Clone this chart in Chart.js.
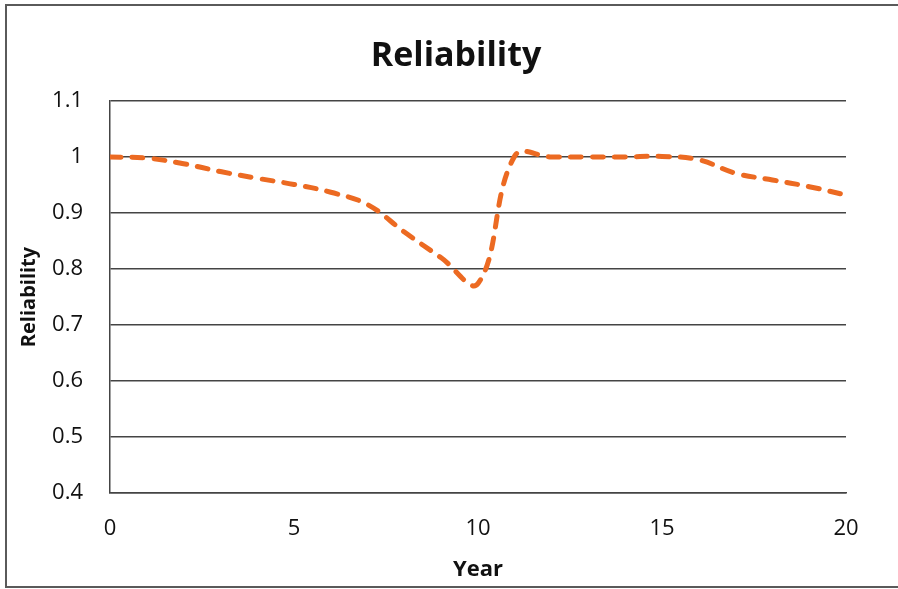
<!DOCTYPE html>
<html>
<head>
<meta charset="utf-8">
<script src="https://cdn.jsdelivr.net/npm/chart.js@4/dist/chart.umd.min.js"></script>
<style>
  html, body { margin: 0; padding: 0; background: #fff; }
  #wrap { position: relative; width: 898px; height: 589px; }
</style>
</head>
<body>
<div id="wrap"><canvas id="c" width="898" height="589"></canvas></div>
<script>
const chartTitle = "Reliability";
const xAxisTitle = "Year";
const yAxisTitle = "Reliability";
const years = [0, 1, 2, 3, 4, 5, 6, 7, 8, 9, 10, 11, 12, 13, 14, 15, 16, 17, 18, 19, 20];
const reliability = [1.0, 0.998, 0.988, 0.974, 0.962, 0.951, 0.937, 0.915, 0.866, 0.82, 0.774, 1.002, 1.0, 1.0, 1.0, 1.001, 0.995, 0.971, 0.959, 0.947, 0.932];
const xTicks = [0, 5, 10, 15, 20];
const yTicks = [0.4, 0.5, 0.6, 0.7, 0.8, 0.9, 1, 1.1];

const points = years.map((x, i) => ({ x: x, y: reliability[i] }));

const framePlugin = {
  id: 'frame',
  beforeDraw(chart) {
    const ctx = chart.ctx;
    ctx.save();
    ctx.fillStyle = '#fff';
    ctx.fillRect(0, 0, chart.width, chart.height);
    ctx.strokeStyle = '#5a5a5a';
    ctx.lineWidth = 2;
    ctx.strokeRect(6, 5, 900, 582);
    ctx.restore();
  },
  afterDraw(chart) {
    const ctx = chart.ctx;
    ctx.save();
    ctx.fillStyle = '#111';
    ctx.font = 'bold 34px "Open Sans"';
    ctx.textAlign = 'center';
    ctx.textBaseline = 'middle';
    ctx.fillText(chartTitle, 456, 56);
    ctx.restore();
  }
};

new Chart(document.getElementById('c'), {
  type: 'line',
  data: {
    datasets: [{
      data: points,
      borderColor: '#EC6A22',
      borderWidth: 5,
      borderDash: [11, 11],
      borderCapStyle: 'round',
      tension: 0.4,
      pointRadius: 0,
      fill: false
    }]
  },
  options: {
    responsive: false,
    animation: false,
    devicePixelRatio: 1,
    layout: { padding: { left: 0, right: 52, top: 101, bottom: 0 } },
    plugins: {
      legend: { display: false },
      title: { display: false },
      tooltip: { enabled: false }
    },
    scales: {
      x: {
        type: 'linear',
        min: 0,
        max: 20,
        afterBuildTicks(scale) { scale.ticks = xTicks.map(v => ({ value: v })); },
        afterFit(scale) { scale.height = 96; },
        grid: { display: false, drawTicks: false },
        border: { display: true, color: '#444', width: 1.5 },
        ticks: {
          padding: 23,
          color: '#111',
          font: { family: 'Open Sans', size: 22 },
          maxRotation: 0
        },
        title: {
          display: true,
          text: xAxisTitle,
          color: '#111',
          font: { family: 'Open Sans', size: 22, weight: 'bold' },
          padding: { top: 0, bottom: 6 }
        }
      },
      y: {
        min: 0.4,
        max: 1.1,
        afterBuildTicks(scale) { scale.ticks = yTicks.map(v => ({ value: v })); },
        afterFit(scale) { scale.width = 110; },
        grid: { color: '#444', lineWidth: 1.5, drawTicks: false },
        border: { display: true, color: '#444', width: 1.5 },
        ticks: {
          padding: 27,
          color: '#111',
          font: { family: 'Open Sans', size: 22 },
          callback: v => String(Math.round(v * 10) / 10)
        },
        title: {
          display: true,
          text: yAxisTitle,
          color: '#111',
          font: { family: 'Open Sans', size: 20, weight: 'bold' },
          padding: { top: 17, bottom: 0 }
        }
      }
    }
  },
  plugins: [framePlugin]
});
</script>
</body>
</html>
